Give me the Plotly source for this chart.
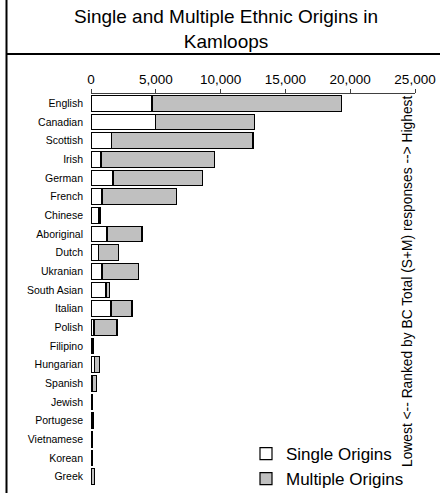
import plotly.graph_objects as go

categories = ["English", "Canadian", "Scottish", "Irish", "German", "French", "Chinese",
              "Aboriginal", "Dutch", "Ukranian", "South Asian", "Italian", "Polish",
              "Filipino", "Hungarian", "Spanish", "Jewish", "Portugese", "Vietnamese",
              "Korean", "Greek"]
single = [4700, 5000, 1600, 770, 1700, 850, 620, 1230, 560, 850, 1150, 1540, 230,
          130, 250, 100, 60, 100, 110, 100, 60]
multiple = [14600, 7600, 10900, 8770, 6900, 5750, 120, 2700, 1540, 2800, 260, 1620, 1780,
            40, 410, 330, 40, 60, 20, 30, 230]
xticks = [0, 5000, 10000, 15000, 20000, 25000]

W, H = 440, 493
L, R, T, B = 91, 25, 94, 7
PW, PH = W - L - R, H - T - B

def px(x):
    return (x - L) / PW

def py(y):
    return (H - B - y) / PH

FONT = "Liberation Sans, Arial, sans-serif"

fig = go.Figure()
fig.add_trace(go.Bar(y=categories, x=single, orientation="h", name="Single Origins",
                     marker=dict(color="white", line=dict(color="black", width=1.2))))
fig.add_trace(go.Bar(y=categories, x=multiple, orientation="h", name="Multiple Origins",
                     marker=dict(color="#c0c0c0", line=dict(color="black", width=1.2))))

fig.update_layout(
    width=W, height=H, barmode="stack", bargap=0.16,
    margin=dict(l=L, r=R, t=T, b=B, autoexpand=False),
    paper_bgcolor="white", plot_bgcolor="white",
    font=dict(family=FONT, color="black"),
    showlegend=True,
    legend=dict(x=px(246), y=py(497), xanchor="left", yanchor="bottom",
                font=dict(size=17, family=FONT), bgcolor="rgba(0,0,0,0)",
                traceorder="normal", itemwidth=30, tracegroupgap=0),
    xaxis=dict(side="top", range=[0, 25000], tickvals=xticks, tickformat=",",
               ticks="outside", ticklen=4, tickcolor="#404040", showline=True,
               linecolor="#404040", linewidth=1, showgrid=False, zeroline=False,
               automargin=False, tickfont=dict(size=13.5, family=FONT)),
    yaxis=dict(autorange="reversed", showline=False, ticks="", showgrid=False,
               automargin=False, tickfont=dict(size=10.5, family=FONT),
               ticklabelstandoff=7),
)

fig.add_annotation(text="Single and Multiple Ethnic Origins in<br>Kamloops",
                   xref="paper", yref="paper", x=px(226), y=py(28.5), xanchor="center",
                   yanchor="middle", showarrow=False, font=dict(size=19, family=FONT))
fig.add_annotation(text="Lowest <-- Ranked by BC Total (S+M) responses --> Highest",
                   xref="paper", yref="paper", x=px(407), y=py(282), textangle=-90,
                   xanchor="center", yanchor="middle", showarrow=False,
                   font=dict(size=13.8, family=FONT))

fig.add_shape(type="line", xref="paper", yref="paper", x0=px(6.5), x1=px(6.5),
              y0=py(0), y1=py(493), line=dict(color="black", width=2))
fig.add_shape(type="line", xref="paper", yref="paper", x0=px(6), x1=px(440),
              y0=py(54), y1=py(54), line=dict(color="black", width=2))

fig.write_html("out.html", config={"displayModeBar": False},
               post_script="document.body.style.margin='0px';"
                           "document.body.style.overflow='hidden';")
